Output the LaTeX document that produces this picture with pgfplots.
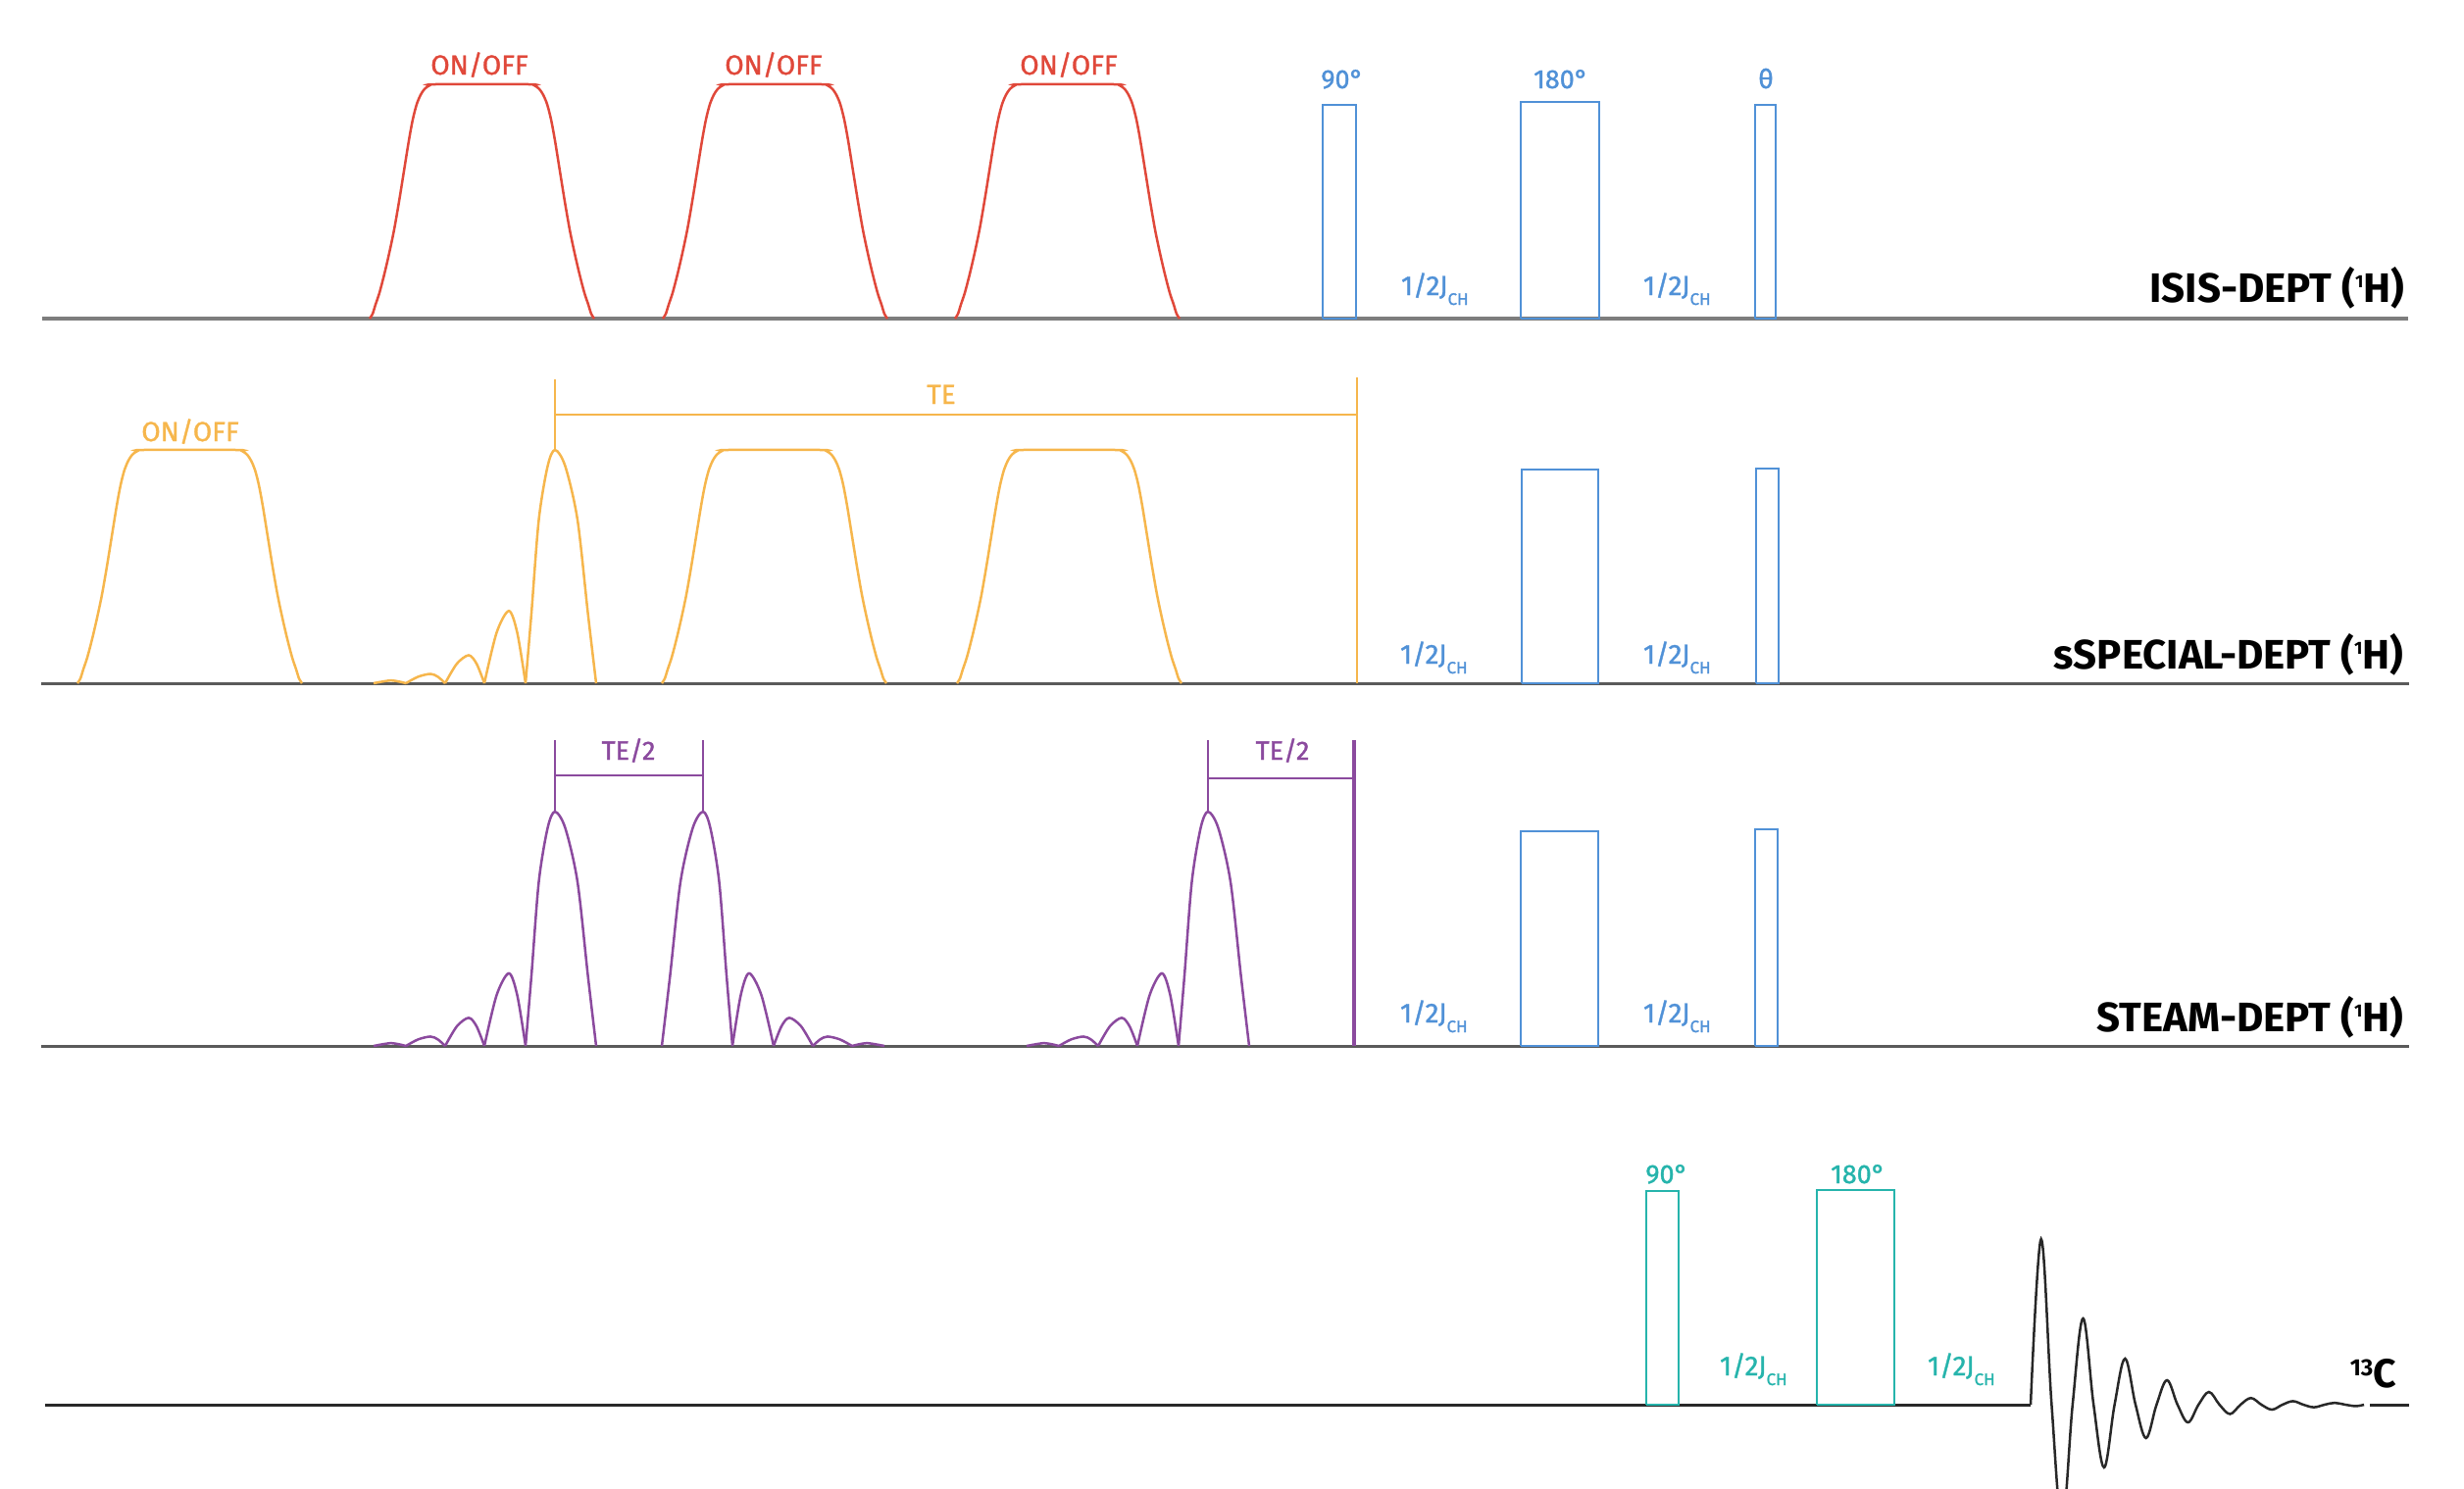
\documentclass[border=0pt]{standalone}
\usepackage{fontspec}
\setmainfont{Fira Sans}
\newfontfamily\medfont{Fira Sans}[FakeBold=1.2]
\usepackage{pgfplots}
\usepackage{pgfplotstable}
\pgfplotsset{compat=1.18}

\definecolor{redP}{RGB}{224,72,58}
\definecolor{orangeP}{RGB}{246,182,76}
\definecolor{blueP}{RGB}{80,145,215}
\definecolor{purpleP}{RGB}{139,74,158}
\definecolor{tealP}{RGB}{38,180,172}
\definecolor{grayA}{RGB}{125,125,125}
\definecolor{grayB}{RGB}{90,90,90}
\definecolor{darkP}{RGB}{40,40,40}

% flat-topped (ON/OFF) pulse profile: offset from pulse start, relative height
\pgfplotstableread{
dx h
0 0
3 0.02
6 0.06
10 0.11
15 0.19
20 0.28
25 0.38
30 0.50
35 0.63
40 0.76
44 0.85
48 0.915
52 0.955
56 0.98
61 0.995
67 1
162 1
168 0.995
173 0.98
177 0.955
181 0.915
185 0.85
189 0.76
194 0.63
199 0.50
204 0.38
209 0.28
214 0.19
219 0.11
223 0.06
226 0.02
229 0
}\trap

% asymmetric sinc pulse (lobes as humps), x in pixels, relative height
\pgfplotstableread{
x h
381 0
390 0.007
399 0.012
407 0.007
414 0
nan nan
414 0
426.5 0.028
439 0.04
446.5 0.028
454 0
nan nan
454 0
466 0.084
478 0.12
486 0.084
494 0
nan nan
494 0
506.5 0.217
519 0.31
527.5 0.217
536 0
nan nan
536 0
542 0.3
549.5 0.7
558.5 0.93
566 1
576.5 0.93
589 0.7
599.6 0.3
608 0
}\sincA

\newcommand{\jch}{1/2J\raisebox{-10pt}{\fontsize{17}{17}\selectfont CH}}
\newcommand{\supone}[1]{\raisebox{15pt}{\fontsize{18}{18}\selectfont #1}}

\begin{document}
\begin{tikzpicture}
\begin{axis}[name=ax, width=2513pt, height=1518pt, scale only axis,
  xmin=0, xmax=2513, ymin=0, ymax=1518, y dir=reverse, hide axis,
  clip bounding box=upper bound, unbounded coords=jump]

% baselines
\addplot[grayA, line width=4.5pt] coordinates {(43,325) (2456,325)};
\addplot[grayB, line width=3pt] coordinates {(42,697) (2457,697)};
\addplot[grayB, line width=3pt] coordinates {(42,1067) (2457,1067)};
\addplot[darkP, line width=3pt] coordinates {(46,1433) (2071,1433)};
\addplot[darkP, line width=3pt] coordinates {(2417,1433) (2457,1433)};

% ---- Row 1: ISIS-DEPT
\addplot[redP, line width=2.5pt, smooth] table[x expr=\thisrow{dx}+377, y expr=325-239*\thisrow{h}] {\trap};
\addplot[redP, line width=2.5pt, smooth] table[x expr=\thisrow{dx}+676, y expr=325-239*\thisrow{h}] {\trap};
\addplot[redP, line width=2.5pt, smooth] table[x expr=\thisrow{dx}+974, y expr=325-239*\thisrow{h}] {\trap};
\addplot[blueP, line width=2.5pt] coordinates {(1349,325) (1349,107) (1383,107) (1383,325) (1349,325)};
\addplot[blueP, line width=2.5pt] coordinates {(1551,325) (1551,104) (1631,104) (1631,325) (1551,325)};
\addplot[blueP, line width=2.5pt] coordinates {(1790,325) (1790,107) (1811,107) (1811,325) (1790,325)};

% ---- Row 2: sSPECIAL-DEPT
\addplot[orangeP, line width=2.5pt, smooth] table[x expr=\thisrow{dx}+79, y expr=697-238*\thisrow{h}] {\trap};
\addplot[orangeP, line width=2.5pt, smooth] table[x expr=\thisrow{x}, y expr=697-238*\thisrow{h}] {\sincA};
\addplot[orangeP, line width=2.5pt, smooth] table[x expr=\thisrow{dx}+675, y expr=697-238*\thisrow{h}] {\trap};
\addplot[orangeP, line width=2.5pt, smooth] table[x expr=\thisrow{dx}+976, y expr=697-238*\thisrow{h}] {\trap};
\addplot[orangeP, line width=2pt] coordinates {(566,387) (566,459)};
\addplot[orangeP, line width=2.5pt] coordinates {(1384,385) (1384,697)};
\addplot[orangeP, line width=2.5pt] coordinates {(566,423) (1384,423)};
\addplot[blueP, line width=2.5pt] coordinates {(1552,697) (1552,479) (1630,479) (1630,697) (1552,697)};
\addplot[blueP, line width=2.5pt] coordinates {(1791,697) (1791,478) (1814,478) (1814,697) (1791,697)};

% ---- Row 3: STEAM-DEPT
\addplot[purpleP, line width=2.5pt, smooth] table[x expr=\thisrow{x}, y expr=1067-239*\thisrow{h}] {\sincA};
\addplot[purpleP, line width=2.5pt, smooth] table[x expr=1283-\thisrow{x}, y expr=1067-239*\thisrow{h}] {\sincA};
\addplot[purpleP, line width=2.5pt, smooth] table[x expr=\thisrow{x}+666, y expr=1067-239*\thisrow{h}] {\sincA};
\addplot[purpleP, line width=2pt] coordinates {(566,755) (566,828)};
\addplot[purpleP, line width=2pt] coordinates {(717,755) (717,828)};
\addplot[purpleP, line width=2pt] coordinates {(566,791) (717,791)};
\addplot[purpleP, line width=2pt] coordinates {(1232,755) (1232,828)};
\addplot[purpleP, line width=3.5pt] coordinates {(1381,755) (1381,1067)};
\addplot[purpleP, line width=2pt] coordinates {(1232,794) (1381,794)};
\addplot[blueP, line width=2.5pt] coordinates {(1551,1067) (1551,848) (1630,848) (1630,1067) (1551,1067)};
\addplot[blueP, line width=2.5pt] coordinates {(1790,1067) (1790,846) (1813,846) (1813,1067) (1790,1067)};

% ---- Row 4: 13C
\addplot[tealP, line width=2.5pt] coordinates {(1679,1433) (1679,1215) (1712,1215) (1712,1433) (1679,1433)};
\addplot[tealP, line width=2.5pt] coordinates {(1853,1433) (1853,1214) (1932,1214) (1932,1433) (1853,1433)};
\addplot[darkP, line width=2.5pt, smooth, tension=0.6] coordinates {
(2071,1433) (2081.7,1264) (2092.4,1433) (2103.1,1555) (2113.8,1433)
(2124.5,1345) (2135.2,1433) (2145.9,1497) (2156.6,1433)
(2167.3,1386) (2178,1433) (2188.7,1467) (2199.4,1433)
(2210.1,1408) (2220.8,1433) (2231.5,1451) (2242.2,1433)
(2252.9,1420) (2263.6,1433) (2274.3,1442.5) (2285,1433)
(2295.7,1426.2) (2306.4,1433) (2317.1,1438) (2327.8,1433)
(2338.5,1429.4) (2349.2,1433) (2359.9,1435.6) (2370.6,1433)
(2381.3,1431.1) (2392,1433) (2402.7,1434.4) (2411,1433)};

% ---- labels
\begin{scope}[every node/.style={inner sep=0pt, outer sep=0pt}]
\node[anchor=base, text=redP, font=\medfont\fontsize{28}{28}\selectfont] at (axis cs:489,76) {ON/OFF};
\node[anchor=base, text=redP, font=\medfont\fontsize{28}{28}\selectfont] at (axis cs:789,76) {ON/OFF};
\node[anchor=base, text=redP, font=\medfont\fontsize{28}{28}\selectfont] at (axis cs:1090,76) {ON/OFF};
\node[anchor=base, text=blueP, font=\medfont\fontsize{27}{27}\selectfont] at (axis cs:1369,90) {90°};
\node[anchor=base, text=blueP, font=\medfont\fontsize{27}{27}\selectfont] at (axis cs:1592,90) {180°};
\node[anchor=base, text=blueP, font=\medfont\fontsize{27}{27}\selectfont] at (axis cs:1801,90) {θ};
\node[anchor=base west, text=blueP, font=\medfont\fontsize{28}{28}\selectfont] at (axis cs:1429,301) {\jch};
\node[anchor=base west, text=blueP, font=\medfont\fontsize{28}{28}\selectfont] at (axis cs:1676,301) {\jch};
\node[anchor=base east, text=black, font=\fontsize{42}{42}\selectfont\bfseries] at (axis cs:2452,308) {ISIS-DEPT (\supone{1}H)};

\node[anchor=base, text=orangeP, font=\medfont\fontsize{28}{28}\selectfont] at (axis cs:194,450) {ON/OFF};
\node[anchor=base, text=orangeP, font=\medfont\fontsize{28}{28}\selectfont] at (axis cs:960,412) {TE};
\node[anchor=base west, text=blueP, font=\medfont\fontsize{28}{28}\selectfont] at (axis cs:1428,677) {\jch};
\node[anchor=base west, text=blueP, font=\medfont\fontsize{28}{28}\selectfont] at (axis cs:1676,677) {\jch};
\node[anchor=base east, text=black, font=\fontsize{42}{42}\selectfont\bfseries] at (axis cs:2451,682) {sSPECIAL-DEPT (\supone{1}H)};

\node[anchor=base, text=purpleP, font=\medfont\fontsize{27}{27}\selectfont] at (axis cs:641,775) {TE/2};
\node[anchor=base, text=purpleP, font=\medfont\fontsize{27}{27}\selectfont] at (axis cs:1308,775) {TE/2};
\node[anchor=base west, text=blueP, font=\medfont\fontsize{28}{28}\selectfont] at (axis cs:1428,1043) {\jch};
\node[anchor=base west, text=blueP, font=\medfont\fontsize{28}{28}\selectfont] at (axis cs:1676,1043) {\jch};
\node[anchor=base east, text=black, font=\fontsize{42}{42}\selectfont\bfseries] at (axis cs:2451,1052) {STEAM-DEPT (\supone{1}H)};

\node[anchor=base, text=tealP, font=\medfont\fontsize{27}{27}\selectfont] at (axis cs:1700,1207) {90°};
\node[anchor=base, text=tealP, font=\medfont\fontsize{27}{27}\selectfont] at (axis cs:1895,1207) {180°};
\node[anchor=base west, text=tealP, font=\medfont\fontsize{28}{28}\selectfont] at (axis cs:1754,1403) {\jch};
\node[anchor=base west, text=tealP, font=\medfont\fontsize{28}{28}\selectfont] at (axis cs:1966,1403) {\jch};
\node[anchor=base east, text=black, font=\fontsize{41}{41}\selectfont\bfseries] at (axis cs:2444,1415) {\raisebox{12pt}{\fontsize{24}{24}\selectfont 13}C};
\end{scope}
\end{axis}
\pgfresetboundingbox
\useasboundingbox (ax.south west) rectangle (ax.north east);
\end{tikzpicture}
\end{document}
